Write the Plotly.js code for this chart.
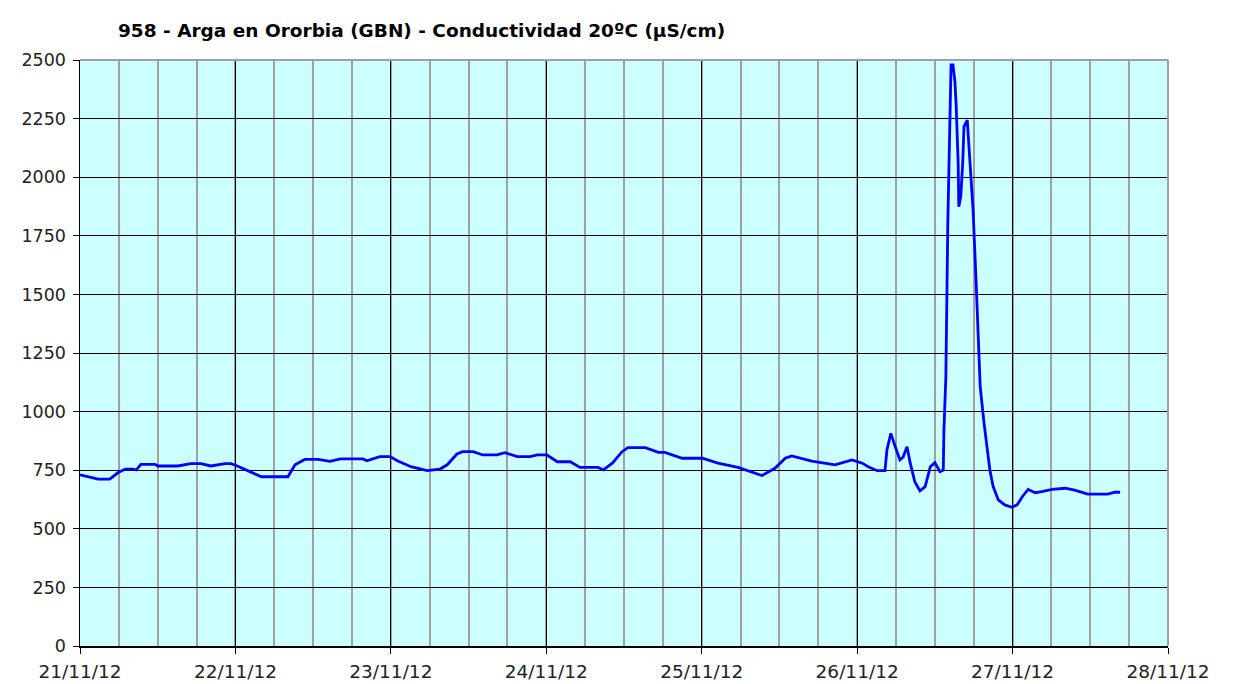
<!DOCTYPE html>
<html>
<head>
<meta charset="utf-8">
<script src="https://cdn.plot.ly/plotly-3.0.1.min.js"></script>
<style>html,body{margin:0;padding:0;background:#fff;}#chart{width:1251px;height:684px;}</style>
</head>
<body>
<div id="chart"></div>
<script>
// Hours elapsed since 21/11/12 00:00
const hours = [0, 2.8, 4.6, 5.9, 7.0, 8.2, 8.7, 9.4, 11.6, 12.0, 15.1, 17.1, 18.7, 20.2, 22.4, 23.3,
  24.1, 26.4, 28.0, 29.5, 32.1, 33.2, 34.7, 36.8, 38.6, 40.2, 43.7, 44.3, 46.3, 47.9,
  49.0, 51.1, 52.5, 53.6, 55.6, 56.7, 58.2, 59.1, 60.7, 62.2, 64.4, 65.6, 67.5, 69.5, 70.6,
  72.1, 73.7, 75.7, 77.2, 80.0, 80.8, 82.2, 83.7, 84.6, 87.3, 89.3, 90.3, 93.0,
  96.1, 98.5, 101.6, 103.8, 105.3, 107.3, 108.9, 109.9, 113.0, 116.6, 119.2,
  120.8, 121.7, 123.1, 124.3, 124.6, 125.2, 125.8, 126.6, 127.1, 127.7, 128.2, 128.9, 129.7,
  130.5, 131.3, 132.0, 132.8, 133.3, 133.4, 133.7, 134.0, 134.2, 134.5, 134.8, 135.1, 135.3,
  135.6, 135.7, 136.0, 136.3, 136.5, 137.0, 137.1, 137.4, 137.9, 138.4, 138.7, 139.0, 139.6,
  140.5, 141.0, 141.8, 142.8, 143.9, 144.7, 145.5, 146.4, 147.5, 148.5, 150.1, 152.1, 153.6,
  155.6, 158.7, 159.8, 160.6];
// Conductividad 20ºC (µS/cm)
const conductividad = [730, 712, 712, 740, 755, 755, 751, 775, 775, 768, 768, 778, 778, 768, 778, 778,
  770, 740, 722, 722, 722, 773, 796, 796, 788, 798, 798, 790, 808, 808,
  790, 765, 755, 748, 755, 773, 819, 829, 829, 815, 815, 825, 808, 808, 815,
  815, 786, 786, 762, 762, 751, 780, 829, 846, 846, 826, 826, 801,
  801, 780, 762, 741, 727, 758, 801, 811, 789, 773, 794,
  780, 765, 748, 748, 836, 907, 857, 794, 806, 850, 780, 701, 662,
  680, 765, 782, 744, 750, 921, 1149, 1803, 2116, 2479, 2479, 2407, 2301,
  2059, 1874, 1917, 2059, 2216, 2244, 2201, 2087, 1860, 1533, 1291, 1106, 950,
  750, 680, 623, 602, 592, 602, 637, 668, 654, 659, 668, 673, 665,
  648, 648, 656, 656];
const dayTicks = ['2012-11-21', '2012-11-22', '2012-11-23', '2012-11-24', '2012-11-25', '2012-11-26', '2012-11-27', '2012-11-28'];
const dayLabels = ['21/11/12', '22/11/12', '23/11/12', '24/11/12', '25/11/12', '26/11/12', '27/11/12', '28/11/12'];
const yTicks = [0, 250, 500, 750, 1000, 1250, 1500, 1750, 2000, 2250, 2500];

const t0 = Date.UTC(2012, 10, 21, 0, 0, 0);
function fmt(ms) {
  const d = new Date(ms);
  const p = n => String(n).padStart(2, '0');
  return d.getUTCFullYear() + '-' + p(d.getUTCMonth() + 1) + '-' + p(d.getUTCDate()) + ' ' +
    p(d.getUTCHours()) + ':' + p(d.getUTCMinutes()) + ':' + p(d.getUTCSeconds());
}
const xDates = hours.map(h => fmt(t0 + h * 3600 * 1000));

const font = 'DejaVu Sans, Verdana, sans-serif';
const trace = {
  x: xDates, y: conductividad, type: 'scatter', mode: 'lines',
  line: {color: '#0000FF', width: 2.8},
  hoverinfo: 'x+y'
};
const layout = {
  width: 1251, height: 684,
  margin: {l: 80, r: 83, t: 60, b: 38},
  paper_bgcolor: '#FFFFFF',
  plot_bgcolor: '#CCFFFF',
  showlegend: false,
  title: {
    text: '958 - Arga en Ororbia (GBN) - Conductividad 20ºC (µS/cm)',
    font: {family: font, size: 18.5, color: '#000', weight: 'bold'},
    x: 118 / 1251, xanchor: 'left', xref: 'container',
    y: 1 - 31 / 684, yanchor: 'middle', yref: 'container'
  },
  xaxis: {
    type: 'date',
    range: ['2012-11-21', '2012-11-28'],
    tickmode: 'array', tickvals: dayTicks, ticktext: dayLabels,
    ticks: 'outside', ticklen: 6, tickcolor: '#000', tickwidth: 1,
    showline: true, linecolor: '#000', linewidth: 1.5,
    showgrid: true, gridcolor: '#000', gridwidth: 1,
    minor: {dtick: 6 * 3600 * 1000, showgrid: true, gridcolor: 'rgb(160,160,160)', gridwidth: 2, ticks: ''},
    tickfont: {family: font, size: 18.5, color: '#222'},
    ticklabelstandoff: 2,
    zeroline: false, fixedrange: true
  },
  yaxis: {
    range: [0, 2500],
    tickmode: 'array', tickvals: yTicks, ticktext: yTicks.map(String),
    ticks: 'outside', ticklen: 6, tickcolor: '#000', tickwidth: 1,
    showline: true, linecolor: '#000', linewidth: 1.5,
    showgrid: true, gridcolor: '#000', gridwidth: 1,
    tickfont: {family: font, size: 17.5, color: '#222'},
    ticklabelstandoff: 3,
    zeroline: false, fixedrange: true
  },
  shapes: [
    {type: 'line', xref: 'paper', yref: 'paper', x0: 0, x1: 1, y0: 1, y1: 1, line: {color: '#A0A0A0', width: 2}, layer: 'above'},
    {type: 'line', xref: 'paper', yref: 'paper', x0: 1, x1: 1, y0: 0, y1: 1, line: {color: '#A0A0A0', width: 2}, layer: 'above'}
  ]
};
Plotly.newPlot('chart', [trace], layout, {displayModeBar: false, staticPlot: true});
</script>
</body>
</html>
